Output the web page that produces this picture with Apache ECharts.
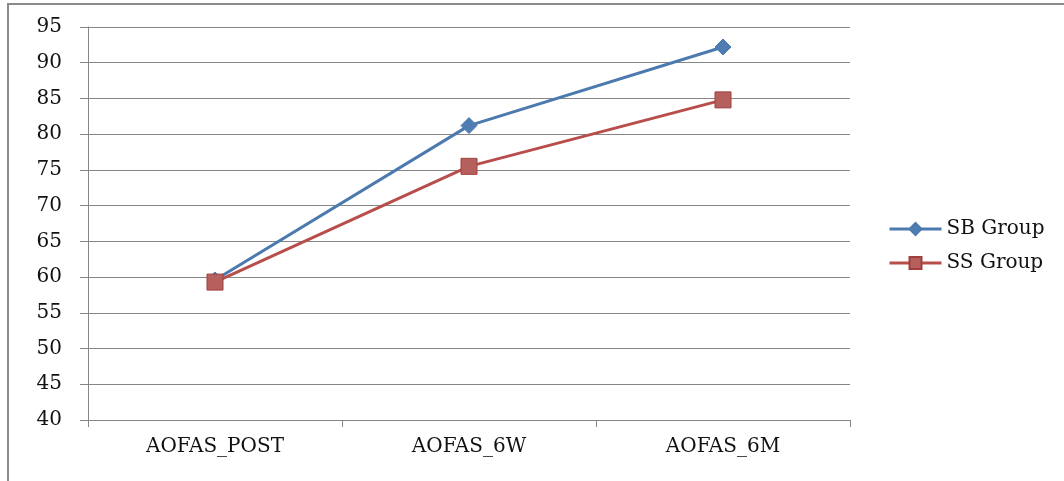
<!DOCTYPE html>
<html>
<head>
<meta charset="utf-8">
<script src="https://cdn.jsdelivr.net/npm/echarts@6/dist/echarts.min.js"></script>
<style>
  html, body { margin: 0; padding: 0; background: #fff; }
  #chart { width: 1064px; height: 481px; }
</style>
</head>
<body>
<div id="chart"></div>
<script>
// 类目与两组数值
const categories = ['AOFAS_POST', 'AOFAS_6W', 'AOFAS_6M']
const sbGroup = [59.6, 81.2, 92.2]
const ssGroup = [59.3, 75.5, 84.8]

const FONT = 'DejaVu Serif'

const myChart = echarts.init(document.getElementById('chart'))

const option = {
  animation: false,
  backgroundColor: '#fff',
  graphic: [
    {
      type: 'rect',
      shape: { x: 8, y: 4, width: 1200, height: 600 },
      style: { fill: 'none', stroke: '#8a8a8a', lineWidth: 2 },
      silent: true
    }
  ],
  legend: {
    orient: 'vertical',
    left: 883,
    top: 214,
    itemWidth: 52,
    itemHeight: 15,
    itemGap: 14,
    lineStyle: { width: 3 },
    textStyle: { fontFamily: FONT, fontSize: 20, color: '#111' },
    data: ['SB Group', 'SS Group']
  },
  grid: {
    left: 88,
    right: 214,
    top: 27,
    bottom: 61,
    containLabel: false
  },
  xAxis: {
    type: 'category',
    boundaryGap: true,
    data: categories,
    axisLine: { lineStyle: { color: '#868686', width: 1 } },
    axisTick: { show: true, length: 7, inside: false, lineStyle: { color: '#868686' } },
    axisLabel: { fontFamily: FONT, fontSize: 20, color: '#111', margin: 17 }
  },
  yAxis: {
    type: 'value',
    min: 40,
    max: 95,
    interval: 5,
    axisLine: { show: true, lineStyle: { color: '#868686', width: 1 } },
    axisTick: { show: true, length: 8, lineStyle: { color: '#868686' } },
    axisLabel: { fontFamily: FONT, fontSize: 20, color: '#111', margin: 26 },
    splitLine: { lineStyle: { color: '#868686', width: 1 } }
  },
  series: [
    {
      name: 'SB Group',
      type: 'line',
      data: sbGroup,
      symbol: 'diamond',
      symbolSize: 16,
      lineStyle: { color: '#4C7AAE', width: 3 },
      itemStyle: { color: '#4F7DB3', borderColor: '#4C7AAE', borderWidth: 1 }
    },
    {
      name: 'SS Group',
      type: 'line',
      data: ssGroup,
      symbol: 'rect',
      symbolSize: 16,
      lineStyle: { color: '#B84E4B', width: 3 },
      itemStyle: { color: '#B5605D', borderColor: '#A0403D', borderWidth: 1 }
    }
  ]
}

myChart.setOption(option)
</script>
</body>
</html>
